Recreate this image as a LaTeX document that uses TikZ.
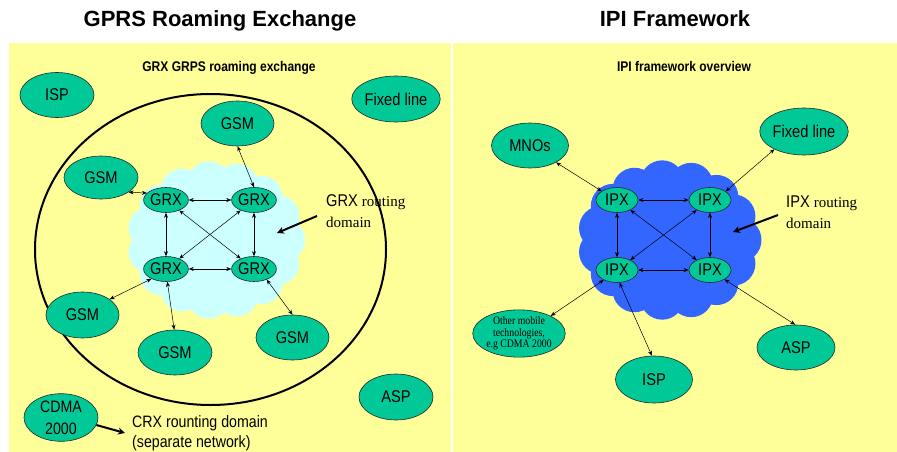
\documentclass[tikz,border=0pt]{standalone}
\usepackage{fontspec}
\setmainfont{Liberation Sans}
\newfontfamily\tms{Liberation Serif}
\newfontfamily\tmsnarrow[FakeStretch=0.85]{Liberation Serif}
\newfontfamily\narrow[FakeStretch=0.86]{Liberation Sans}
\usetikzlibrary{shapes.geometric,arrows.meta}
\definecolor{panel}{HTML}{FFFF99}
\definecolor{netgreen}{HTML}{00C896}
\definecolor{paleblue}{HTML}{CCFFFF}
\definecolor{ipxblue}{HTML}{3366FF}
\tikzset{
  net/.style={ellipse, draw=black!85, line width=0.6pt, fill=netgreen, inner sep=0pt,
    font=\narrow\fontsize{17}{19}\selectfont, align=center},
  hub/.style={net, minimum width=40pt, minimum height=25pt},
  link/.style={line width=0.5pt, {Stealth[length=5pt,width=4pt]}-{Stealth[length=5pt,width=4pt]}},
  pointer/.style={line width=2pt, -{Stealth[length=7pt,width=7pt]}},
  heading/.style={font=\fontsize{22}{24}\selectfont\bfseries, anchor=base, inner sep=0pt},
  subhead/.style={font=\narrow\fontsize{14}{16}\selectfont\bfseries, anchor=base, inner sep=0pt},
  note/.style={font=\narrow\fontsize{17}{19}\selectfont, anchor=base west, inner sep=0pt},
  serifnote/.style={font=\tms\fontsize{15}{17}\selectfont, anchor=base west, inner sep=0pt},
}
\begin{document}
\begin{tikzpicture}[x=1pt, y=-1pt]
\useasboundingbox (0,0) rectangle (897,452);
\fill[white] (0,0) rectangle (897,452);
\fill[panel] (9,43) rectangle (451,452);
\fill[panel] (453,43) rectangle (897,452);

% headings
\node[heading] (tl) at (220,27) {GPRS Roaming Exchange};
\node[heading] (tr) at (675,27) {IPI Framework};
\node[subhead] (sl) at (229,71) {GRX GRPS roaming exchange};
\node[subhead] (sr) at (684,71) {IPI framework overview};

% ---------- GRX side ----------
\draw[line width=2pt] (210.5,249.5) ellipse [x radius=175.5pt, y radius=155.5pt];
\fill[paleblue] (216,240) ellipse [x radius=72pt, y radius=62pt];
\foreach \a in {0,24,...,336}
  \fill[paleblue] ({216+68*cos(\a)},{240+58*sin(\a)}) circle (21pt);

\node[net, minimum width=74pt, minimum height=45pt] (isp1) at (57,95) {ISP};
\node[net, minimum width=74pt, minimum height=46pt] (fix1) at (396,99) {Fixed line};
\node[net, minimum width=73pt, minimum height=45pt] (gsmT) at (237.5,123.5) {GSM};
\node[net, minimum width=74pt, minimum height=43pt] (gsmL) at (101,177.5) {GSM};
\node[hub] (grxTL) at (166,200) {GRX};
\node[hub] (grxTR) at (254,200) {GRX};
\node[hub] (grxBL) at (166,269) {GRX};
\node[hub] (grxBR) at (254,269) {GRX};
\node[net, minimum width=73pt, minimum height=46pt] (gsmLB) at (82.5,315) {GSM};
\node[net, minimum width=74pt, minimum height=45pt] (gsmB) at (175,352.5) {GSM};
\node[net, minimum width=73pt, minimum height=45pt] (gsmR) at (292.5,337.5) {GSM};
\node[net, minimum width=74pt, minimum height=46pt] (asp1) at (396,397) {ASP};
\node[net, minimum width=74pt, minimum height=41pt, font=\narrow\fontsize{16.5}{22}\selectfont] (cdma) at (61,417.5) {CDMA\\2000};

\draw[link] (gsmT.south) -- (grxTR.north);
\draw[link] (gsmL.-28) -- (grxTL.160);
\draw[link] (grxTL) -- (grxTR);
\draw[link] (grxBL) -- (grxBR);
\draw[link] (grxTL) -- (grxBL);
\draw[link] (grxTR) -- (grxBR);
\draw[link] (grxTL) -- (grxBR);
\draw[link] (grxTR) -- (grxBL);
\draw[link] (grxBL.-146) -- (gsmLB.30);
\draw[link] (grxBL.-84) -- (gsmB.92);
\draw[link] (grxBR.-40) -- (gsmR.90);

\node[note] (grxlab) at (326,206.5) {GRX {\tms\fontsize{15}{17}\selectfont routing}};
\node[serifnote] (grxdom) at (326,227.5) {domain};
\coordinate (grxtail) at (317,216);
\coordinate (grxtip) at (277,233);
\draw[pointer] (grxtail) -- (grxtip);

\node[note, font=\narrow\fontsize{16.5}{19}\selectfont] (crx1) at (132,427) {CRX rounting domain};
\node[note, font=\narrow\fontsize{16.5}{19}\selectfont] (crx2) at (132,447) {(separate network)};
\coordinate (crxtip) at (125,433);
\draw[pointer] (cdma.-12) -- (crxtip);

% ---------- IPX side ----------
\fill[ipxblue] (669.5,240) ellipse [x radius=74pt, y radius=62pt];
\foreach \a in {0,24,...,336}
  \fill[ipxblue] ({669.5+70*cos(\a)},{240+58*sin(\a)}) circle (22pt);

\node[net, minimum width=77pt, minimum height=45pt] (mnos) at (530,145.5) {MNOs};
\node[net, minimum width=78pt, minimum height=47pt] (fix2) at (804,131.5) {Fixed line};
\node[hub, minimum width=42pt] (ipxTL) at (617,200) {IPX};
\node[hub, minimum width=42pt] (ipxTR) at (710,200) {IPX};
\node[hub, minimum width=42pt] (ipxBL) at (617,270) {IPX};
\node[hub, minimum width=42pt] (ipxBR) at (710,270) {IPX};
\node[net, minimum width=78pt, minimum height=45pt, font=\tmsnarrow\fontsize{11.5}{11.5}\selectfont] (other) at (519,333.5) {Other mobile\\technologies,\\e.g CDMA 2000};
\node[net, minimum width=77pt, minimum height=47pt] (isp2) at (654,379.5) {ISP};
\node[net, minimum width=78pt, minimum height=45pt] (asp2) at (796,347.5) {ASP};

\draw[link] (mnos.-33) -- (ipxTL.150);
\draw[link] (fix2.-149) -- (ipxTR.29);
\draw[link] (ipxTL) -- (ipxTR);
\draw[link] (ipxBL) -- (ipxBR);
\draw[link] (ipxTL) -- (ipxBL);
\draw[link] (ipxTR) -- (ipxBR);
\draw[link] (ipxTL) -- (ipxBR);
\draw[link] (ipxTR) -- (ipxBL);
\draw[link] (ipxBL.-143) -- (other.29);
\draw[link] (ipxBL.-79) -- (isp2.95);
\draw[link] (ipxBR.-33) -- (asp2.92);

\node[note] (ipxlab) at (786,207) {IPX {\tms\fontsize{15}{17}\selectfont routing}};
\node[serifnote] (ipxdom) at (786,228) {domain};
\coordinate (ipxtail) at (778,215);
\coordinate (ipxtip) at (733,232);
\draw[pointer] (ipxtail) -- (ipxtip);
\end{tikzpicture}
\end{document}
